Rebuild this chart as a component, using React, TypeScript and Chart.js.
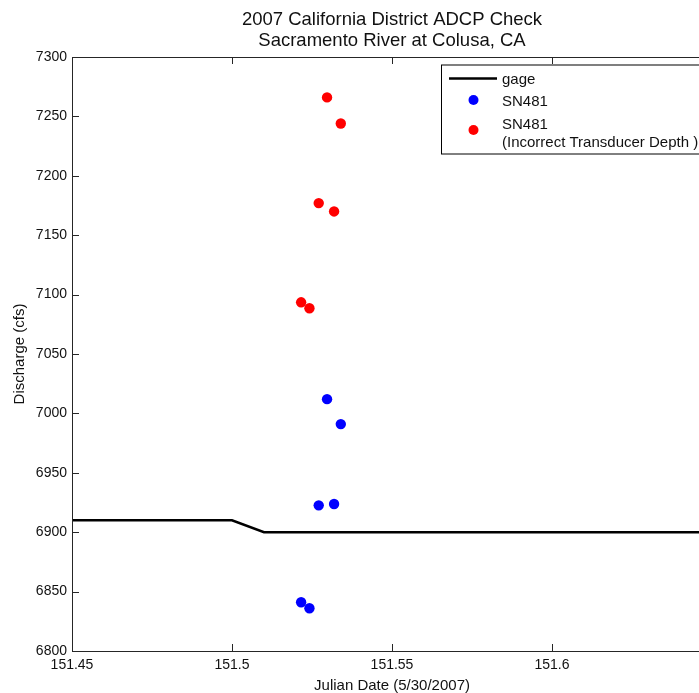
import { useEffect, useRef } from "react";
import { Chart, registerables } from "chart.js";

Chart.register(...registerables);

const titleLines = ["2007 California District ADCP Check", "Sacramento River at Colusa, CA"];
const xAxisTitle = "Julian Date (5/30/2007)";
const yAxisTitle = "Discharge (cfs)";

const xTicks = [151.45, 151.5, 151.55, 151.6, 151.65];
const xTickLabels = ["151.45", "151.5", "151.55", "151.6", ""];
const yTicks = [6800, 6850, 6900, 6950, 7000, 7050, 7100, 7150, 7200, 7250, 7300];

const gageX = [151.44, 151.5, 151.51, 151.66];
const gageY = [6910, 6910, 6900, 6900];

const sampleX = [151.5216, 151.5242, 151.5271, 151.5297, 151.5319, 151.534];
const sn481Y = [6841, 6836, 6922.6, 7012, 6923.7, 6991];
const sn481IncorrectY = [7093.5, 7088.5, 7177, 7266, 7170, 7244];

const seriesLabels = ["gage", "SN481", "SN481\n(Incorrect Transducer Depth )"];

const FONT = "'Liberation Sans', Arial, Helvetica, sans-serif";

const framePlugin = {
  id: "matlabFrame",
  afterDraw(chart: any) {
    const { ctx, chartArea } = chart;
    const { left, right, top, bottom } = chartArea;
    const xs = chart.scales.x;
    const ys = chart.scales.y;
    ctx.save();
    ctx.strokeStyle = "#262626";
    ctx.lineWidth = 1;
    ctx.strokeRect(Math.round(left) + 0.5, Math.round(top) + 0.5, Math.round(right - left), Math.round(bottom - top));
    const tl = 7;
    ctx.beginPath();
    xTicks.forEach((v) => {
      const px = Math.round(xs.getPixelForValue(v)) + 0.5;
      ctx.moveTo(px, bottom);
      ctx.lineTo(px, bottom - tl);
      ctx.moveTo(px, top);
      ctx.lineTo(px, top + tl);
    });
    yTicks.forEach((v) => {
      const py = Math.round(ys.getPixelForValue(v)) + 0.5;
      ctx.moveTo(left, py);
      ctx.lineTo(left + tl, py);
      ctx.moveTo(right, py);
      ctx.lineTo(right - tl, py);
    });
    ctx.stroke();

    ctx.fillStyle = "#111";
    ctx.font = `18.5px ${FONT}`;
    ctx.textAlign = "center";
    ctx.textBaseline = "alphabetic";
    const cx = (left + right) / 2;
    ctx.fillText(titleLines[0], cx, 24.5);
    ctx.fillText(titleLines[1], cx, 46);

    const bx = 441, by = 64.5, bw = 265, bh = 89;
    ctx.fillStyle = "#fff";
    ctx.fillRect(bx, by, bw, bh);
    ctx.strokeStyle = "#000";
    ctx.strokeRect(bx + 0.5, by + 0.5, bw, bh);
    const ds = chart.data.datasets;
    ctx.strokeStyle = ds[0].borderColor;
    ctx.lineWidth = 2.5;
    ctx.beginPath();
    ctx.moveTo(449, 78.5);
    ctx.lineTo(497, 78.5);
    ctx.stroke();
    ctx.fillStyle = ds[1].backgroundColor;
    ctx.beginPath();
    ctx.arc(473.5, 100, 5, 0, Math.PI * 2);
    ctx.fill();
    ctx.fillStyle = ds[2].backgroundColor;
    ctx.beginPath();
    ctx.arc(473.5, 130, 5, 0, Math.PI * 2);
    ctx.fill();
    ctx.fillStyle = "#111";
    ctx.font = `15px ${FONT}`;
    ctx.textAlign = "left";
    ctx.fillText(seriesLabels[0], 502, 83.5);
    ctx.fillText(seriesLabels[1], 502, 106);
    const parts = seriesLabels[2].split("\n");
    ctx.fillText(parts[0], 502, 128.5);
    ctx.fillText(parts[1], 502, 146.5);
    ctx.restore();
  },
};

export default function App() {
  const ref = useRef<HTMLCanvasElement>(null);

  useEffect(() => {
    document.body.style.margin = "0";
    const canvas = ref.current;
    if (!canvas) return;
    const chart = new Chart(canvas, {
      type: "scatter",
      data: {
        datasets: [
          {
            label: seriesLabels[0],
            data: gageX.map((x, i) => ({ x, y: gageY[i] })),
            showLine: true,
            borderColor: "#000",
            backgroundColor: "#000",
            borderWidth: 2.5,
            pointRadius: 0,
            tension: 0,
          },
          {
            label: seriesLabels[1],
            data: sampleX.map((x, i) => ({ x, y: sn481Y[i] })),
            backgroundColor: "#0000ff",
            borderColor: "#0000ff",
            pointRadius: 5.2,
            borderWidth: 0,
          },
          {
            label: seriesLabels[2],
            data: sampleX.map((x, i) => ({ x, y: sn481IncorrectY[i] })),
            backgroundColor: "#ff0000",
            borderColor: "#ff0000",
            pointRadius: 5.2,
            borderWidth: 0,
          },
        ],
      },
      options: {
        animation: false,
        responsive: false,
        maintainAspectRatio: false,
        layout: { padding: { top: 57, right: 48, left: 0, bottom: 0 } },
        plugins: {
          legend: { display: false },
          title: { display: false },
          tooltip: { enabled: false },
        },
        scales: {
          x: {
            type: "linear",
            min: 151.45,
            max: 151.65,
            afterBuildTicks: (scale: any) => {
              scale.ticks = xTicks.map((v) => ({ value: v }));
            },
            afterFit: (scale: any) => {
              scale.height = 42;
            },
            grid: { display: false, drawTicks: false },
            border: { display: false },
            ticks: {
              padding: 6,
              color: "#111",
              font: { family: FONT, size: 14 },
              maxRotation: 0,
              autoSkip: false,
              callback: (v: any) => {
                const i = xTicks.findIndex((t) => Math.abs(t - v) < 1e-9);
                return i >= 0 ? xTickLabels[i] : "";
              },
            },
            title: {
              display: true,
              text: xAxisTitle,
              color: "#111",
              font: { family: FONT, size: 15 },
              padding: { top: 0, bottom: -2 },
            },
          },
          y: {
            type: "linear",
            min: 6800,
            max: 7300,
            afterBuildTicks: (scale: any) => {
              scale.ticks = yTicks.map((v) => ({ value: v }));
            },
            afterFit: (scale: any) => {
              scale.width = 72;
            },
            grid: { display: false, drawTicks: false },
            border: { display: false },
            ticks: {
              padding: 5,
              color: "#111",
              font: { family: FONT, size: 14 },
              autoSkip: false,
              callback: (v: any) => String(v),
            },
            title: {
              display: true,
              text: yAxisTitle,
              color: "#111",
              font: { family: FONT, size: 15 },
              padding: { top: 11, bottom: 0 },
            },
          },
        },
      },
      plugins: [framePlugin],
    });
    return () => chart.destroy();
  }, []);

  return (
    <div style={{ position: "fixed", left: 0, top: 0, width: 699, height: 693, overflow: "hidden", background: "#fff" }}>
      <canvas ref={ref} width={760} height={693} style={{ display: "block", width: 760, height: 693 }} />
    </div>
  );
}
